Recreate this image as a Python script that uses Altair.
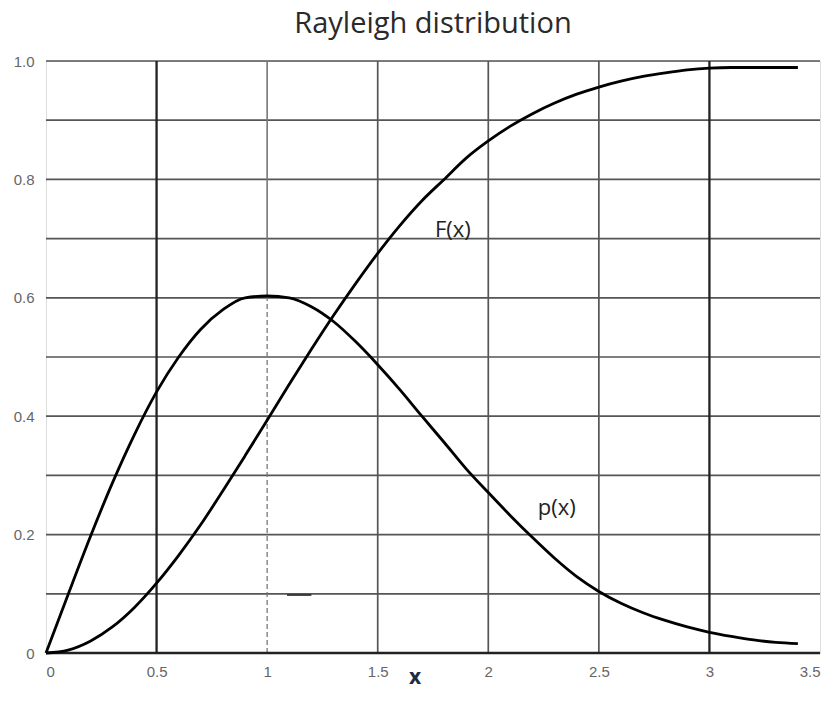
import altair as alt
import pandas as pd

# values
x_vals = [0.0, 0.1, 0.2, 0.3, 0.4, 0.5, 0.6, 0.7, 0.8, 0.9, 1.0, 1.1, 1.2, 1.3, 1.4, 1.5, 1.6,
          1.7, 1.8, 1.9, 2.0, 2.1, 2.2, 2.3, 2.4, 2.5, 2.6, 2.7, 2.8, 2.9, 3.0, 3.1, 3.2, 3.3, 3.4]
p_vals = [0.0, 0.099, 0.196, 0.287, 0.369, 0.441, 0.50, 0.547, 0.58, 0.60, 0.603, 0.60, 0.585,
          0.56, 0.526, 0.487, 0.445, 0.40, 0.356, 0.311, 0.271, 0.232, 0.195, 0.16, 0.129,
          0.104, 0.084, 0.068, 0.055, 0.044, 0.035, 0.028, 0.022, 0.018, 0.016]
F_vals = [0.0, 0.005, 0.02, 0.044, 0.077, 0.118, 0.165, 0.217, 0.274, 0.333, 0.393, 0.454,
          0.513, 0.57, 0.624, 0.675, 0.722, 0.764, 0.80, 0.836, 0.865, 0.89, 0.911, 0.929,
          0.944, 0.956, 0.966, 0.974, 0.98, 0.985, 0.988, 0.989, 0.989, 0.989, 0.989]

h_grid = [0.1, 0.2, 0.3, 0.4, 0.5, 0.6, 0.7, 0.8, 0.9, 1.0]
v_grid_light = [1.5, 2.0, 2.5]
v_grid_dark = [0.5, 3.0]
x_ticks = [0, 0.5, 1, 1.5, 2, 2.5, 3, 3.5]
y_ticks = [0, 0.2, 0.4, 0.6, 0.8, 1.0]

label_text = ["F(x)", "p(x)"]
label_x = [1.84, 2.31]
label_y = [0.715, 0.245]

curves = pd.DataFrame(
    {"x": x_vals * 2,
     "y": p_vals + F_vals,
     "curve": ["p(x)"] * len(x_vals) + ["F(x)"] * len(x_vals)}
)

X = alt.X("x:Q", scale=alt.Scale(domain=[0, 3.5], nice=False),
          axis=alt.Axis(values=x_ticks, labelExpr="'' + datum.value", title=None,
                        grid=False, domain=False, ticks=False, labelPadding=11,
                        labelFont="Liberation Sans", labelFontSize=15, labelColor="#666"))
Y = alt.Y("y:Q", scale=alt.Scale(domain=[0, 1.0], nice=False),
          axis=alt.Axis(values=y_ticks,
                        labelExpr="datum.value == 0 ? '0' : format(datum.value, '.1f')",
                        title=None, grid=False, domain=False, ticks=False, labelPadding=12,
                        labelFont="Liberation Sans", labelFontSize=15, labelColor="#666"))

hdf = pd.DataFrame({"y": h_grid})
hrules = alt.Chart(hdf).mark_rule(color="#555", strokeWidth=1.7).encode(
    y=alt.Y("y:Q", scale=alt.Scale(domain=[0, 1.0], nice=False)),
    x=alt.value(0), x2=alt.value(774))

base_rule = alt.Chart(pd.DataFrame({"y": [0.0]})).mark_rule(color="#222", strokeWidth=2.6).encode(
    y="y:Q", x=alt.value(0), x2=alt.value(774))

vl = pd.DataFrame({"x": v_grid_light, "y0": [0.0] * 3, "y1": [1.0] * 3})
vrules_light = alt.Chart(vl).mark_rule(color="#555", strokeWidth=1.7).encode(
    x=alt.X("x:Q"), y="y0:Q", y2="y1:Q")

vd = pd.DataFrame({"x": v_grid_dark, "y0": [0.0] * 2, "y1": [1.0] * 2})
vrules_dark = alt.Chart(vd).mark_rule(color="#222", strokeWidth=2.3).encode(
    x="x:Q", y="y0:Q", y2="y1:Q")

# x = 1 line: solid above the peak, dashed below
v1 = pd.DataFrame({"x": [1.0], "y0": [0.6], "y1": [1.0]})
v1_solid = alt.Chart(v1).mark_rule(color="#777", strokeWidth=1.6).encode(
    x="x:Q", y="y0:Q", y2="y1:Q")
v1d = pd.DataFrame({"x": [1.0], "y0": [0.0], "y1": [0.6]})
v1_dash = alt.Chart(v1d).mark_rule(color="#777", strokeWidth=1.3, strokeDash=[5, 3]).encode(
    x="x:Q", y="y0:Q", y2="y1:Q")

# small stray dash near (1.15, 0.1)
sd = pd.DataFrame({"x": [1.09], "x2": [1.2], "y": [0.098]})
stray = alt.Chart(sd).mark_rule(color="#333", strokeWidth=1.8).encode(
    x="x:Q", x2="x2:Q", y="y:Q")

lines = alt.Chart(curves).mark_line(color="black", strokeWidth=2.8, interpolate="monotone").encode(
    x=X, y=Y, detail="curve:N")

ldf = pd.DataFrame({"t": label_text, "x": label_x, "y": label_y})
labels = alt.Chart(ldf).mark_text(font="Open Sans", fontSize=22, color="#222").encode(
    x="x:Q", y="y:Q", text="t:N")

xtitle = alt.Chart(pd.DataFrame({"t": ["x"]})).mark_text(
    font="Open Sans", fontSize=21, color="#1f2a44", fontWeight="bold"
).encode(x=alt.value(369), y=alt.value(617), text="t:N")

chart = alt.layer(
    hrules, vrules_light, v1_solid, v1_dash, vrules_dark, base_rule, stray, lines, labels, xtitle
).properties(
    width=774, height=592,
    title=alt.TitleParams("Rayleigh distribution", font="Open Sans", fontSize=29,
                          fontWeight="normal", color="#2a2a2a", offset=15, anchor="middle"),
    autosize=alt.AutoSizeParams(type="none"),
    padding={"left": 46, "top": 61, "right": 14, "bottom": 60},
).configure_view(stroke=None).configure(background="white")

chart.save("out.html", embed_options={"renderer": "svg", "actions": False})
